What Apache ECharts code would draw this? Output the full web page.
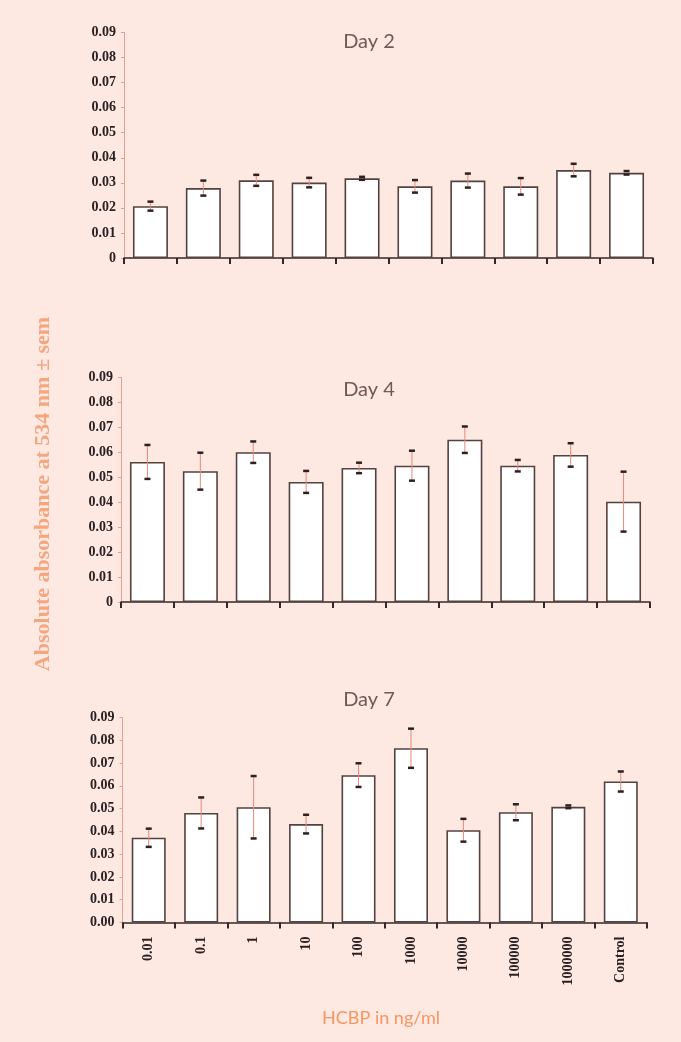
<!DOCTYPE html>
<html>
<head>
<meta charset="utf-8">
<script src="https://cdn.jsdelivr.net/npm/echarts@6/dist/echarts.min.js"></script>
<style>
  html, body { margin: 0; padding: 0; background: #fde8e2; }
  #chart { width: 681px; height: 1042px; }
</style>
</head>
<body>
<div id="chart"></div>
<script>
// concentrations of HCBP (ng/ml)
var categories = ['0.01', '0.1', '1', '10', '100', '1000', '10000', '100000', '1000000', 'Control'];

// mean absorbance at 534 nm and sem, per day
var day2Mean = [0.0207, 0.0279, 0.0310, 0.0301, 0.0318, 0.0286, 0.0309, 0.0286, 0.0351, 0.0340];
var day2Sem  = [0.0018, 0.0030, 0.0022, 0.0019, 0.0006, 0.0025, 0.0028, 0.0033, 0.0025, 0.0007];

var day4Mean = [0.0561, 0.0524, 0.0600, 0.0481, 0.0537, 0.0546, 0.0650, 0.0546, 0.0589, 0.0402];
var day4Sem  = [0.0068, 0.0074, 0.0043, 0.0044, 0.0021, 0.0060, 0.0053, 0.0023, 0.0047, 0.0120];

var day7Mean = [0.0372, 0.0481, 0.0506, 0.0432, 0.0647, 0.0765, 0.0405, 0.0484, 0.0508, 0.0619];
var day7Sem  = [0.0040, 0.0068, 0.0137, 0.0041, 0.0052, 0.0086, 0.0050, 0.0035, 0.0006, 0.0044];

var panelTitles = ['Day 2', 'Day 4', 'Day 7'];
var yMax = 0.09;
var yStep = 0.01;

var chart = echarts.init(document.getElementById('chart'));

var panels = [
  { mean: day2Mean, sem: day2Sem, grid: { left: 124, right: 28, top: 32.5, height: 225.5 }, barWidth: 35, zeroLabel: '0' },
  { mean: day4Mean, sem: day4Sem, grid: { left: 121, right: 31, top: 377.3, height: 224.7 }, barWidth: 35, zeroLabel: '0' },
  { mean: day7Mean, sem: day7Sem, grid: { left: 122.5, right: 34, top: 717.5, height: 205 }, barWidth: 34, zeroLabel: '0.00' }
];

var axisDark = '#33272a';
var axisPink = '#e9a092';

function renderErr(params, api) {
  var i = api.value(0);
  var lo = api.coord([i, api.value(1)]);
  var hi = api.coord([i, api.value(2)]);
  var half = 3;
  return {
    type: 'group',
    children: [
      { type: 'line', shape: { x1: hi[0], y1: hi[1], x2: lo[0], y2: lo[1] },
        style: { stroke: '#e9897a', lineWidth: 1 } },
      { type: 'line', shape: { x1: hi[0] - half, y1: hi[1], x2: hi[0] + half, y2: hi[1] },
        style: { stroke: '#2c2022', lineWidth: 2.5 } },
      { type: 'line', shape: { x1: lo[0] - half, y1: lo[1], x2: lo[0] + half, y2: lo[1] },
        style: { stroke: '#2c2022', lineWidth: 2.5 } }
    ]
  };
}

var grids = [], xAxes = [], yAxes = [], series = [];

panels.forEach(function (p, k) {
  grids.push(p.grid);
  xAxes.push({
    type: 'category',
    gridIndex: k,
    data: categories,
    axisLine: { lineStyle: { color: axisDark, width: 1.5 } },
    axisTick: { show: true, length: 6, lineStyle: { color: axisDark, width: 2 } },
    axisLabel: {
      show: k === 2,
      rotate: 90,
      margin: 14,
      interval: 0,
      color: '#2b2022',
      fontFamily: '"Liberation Serif", serif',
      fontWeight: 'bold',
      fontSize: 14
    }
  });
  yAxes.push({
    type: 'value',
    gridIndex: k,
    min: 0,
    max: yMax,
    interval: yStep,
    splitLine: { show: false },
    axisLine: { show: true, lineStyle: { color: axisPink, width: 1 } },
    axisTick: { show: true, length: 3, lineStyle: { color: axisPink } },
    axisLabel: {
      margin: 8,
      color: '#2b2022',
      fontFamily: '"Liberation Serif", serif',
      fontWeight: 'bold',
      fontSize: 14,
      formatter: function (v) {
        return v === 0 ? p.zeroLabel : v.toFixed(2);
      }
    }
  });
  series.push({
    type: 'bar',
    xAxisIndex: k,
    yAxisIndex: k,
    barWidth: p.barWidth,
    itemStyle: { color: '#ffffff', borderColor: '#54423f', borderWidth: 1.6 },
    data: p.mean
  });
  var errData = p.mean.map(function (m, i) {
    return [i, m - p.sem[i], m + p.sem[i]];
  });
  series.push({
    type: 'custom',
    xAxisIndex: k,
    yAxisIndex: k,
    z: 5,
    renderItem: renderErr,
    encode: { x: 0, y: [1, 2] },
    data: errData
  });
});

var titleY = [42, 390, 700];
var graphics = panelTitles.map(function (t, k) {
  return {
    type: 'text',
    x: 369,
    y: titleY[k],
    style: {
      text: t,
      font: '20px Lato, "Open Sans", sans-serif',
      fill: '#6c5c58',
      align: 'center', textAlign: 'center',
      verticalAlign: 'middle', textVerticalAlign: 'middle'
    }
  };
});
graphics.push({
  type: 'text',
  x: 43,
  y: 494,
  rotation: Math.PI / 2,
  style: {
    text: 'Absolute absorbance at 534 nm \u00b1 sem',
    font: 'bold 22px "Liberation Serif", serif',
    fill: '#f4a67f',
    align: 'center', textAlign: 'center',
    verticalAlign: 'middle', textVerticalAlign: 'middle'
  }
});
graphics.push({
  type: 'text',
  x: 381,
  y: 1018,
  style: {
    text: 'HCBP in ng/ml',
    font: '18px Lato, "Open Sans", sans-serif',
    fill: '#f5975f',
    align: 'center', textAlign: 'center',
    verticalAlign: 'middle', textVerticalAlign: 'middle'
  }
});

chart.setOption({
  backgroundColor: '#fde8e2',
  animation: false,
  grid: grids,
  xAxis: xAxes,
  yAxis: yAxes,
  series: series,
  graphic: graphics
});
</script>
</body>
</html>
